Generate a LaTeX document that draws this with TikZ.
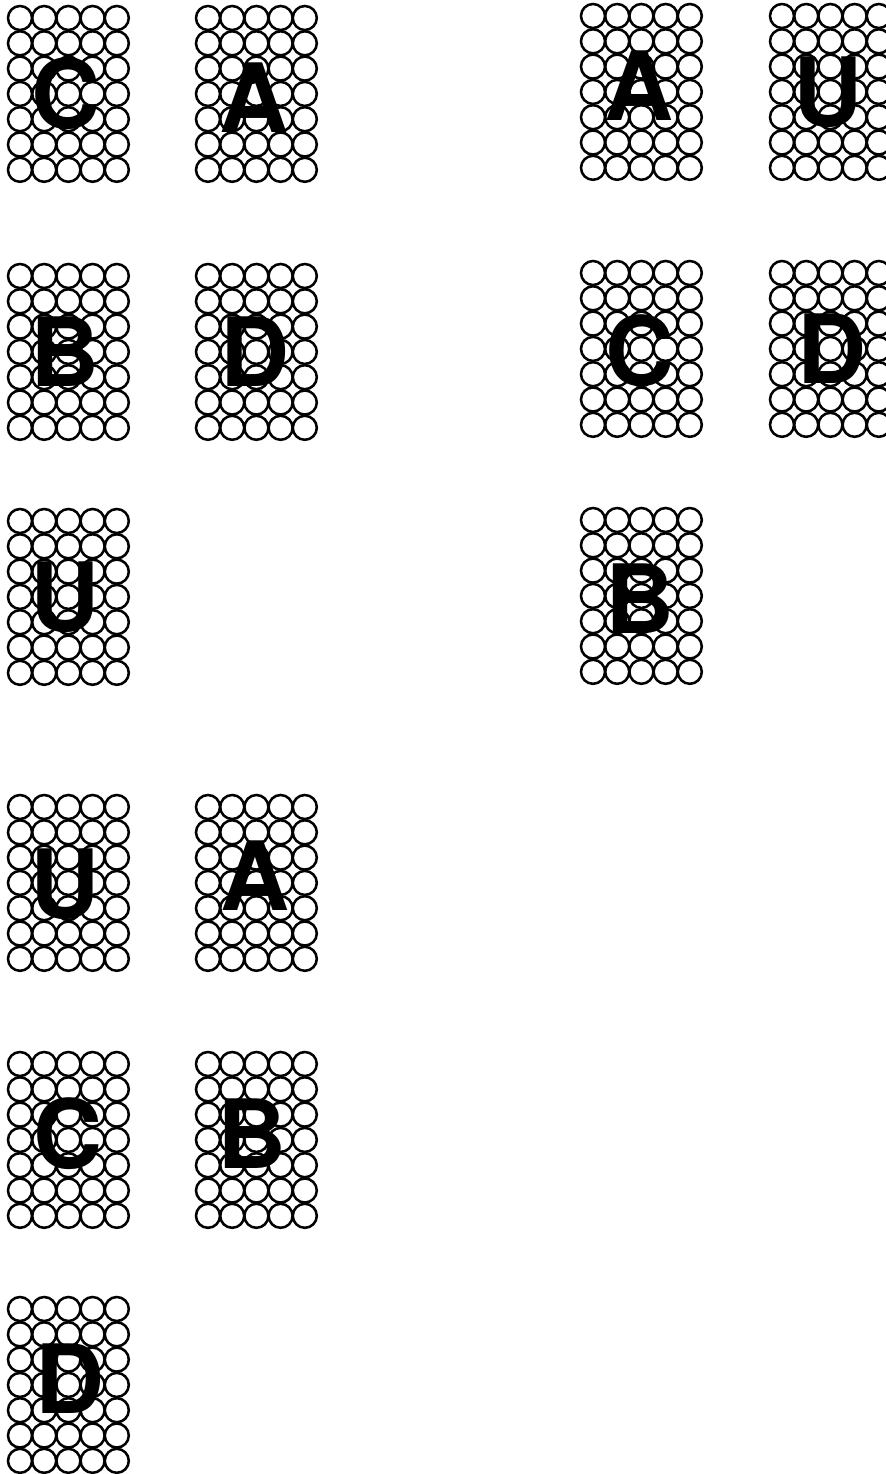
\documentclass[tikz,border=0pt]{standalone}
\usepackage{fontspec}
\setsansfont{TeX Gyre Heros}

\tikzset{
  dot/.style={line width=1.8pt},
  glyph/.style={inner sep=0pt, anchor=base, font=\fontsize{68}{68}\selectfont\sffamily\bfseries}
}

% card: name, left, top, letter, letter dx, baseline dy
\newcommand{\pcard}[6]{%
  \foreach \i in {0,...,4}
    \foreach \j in {0,...,6}
      \draw[dot] ({#2+13+24.2*\i},{#3+13+25.3*\j}) circle (0.3cm);
  \node[glyph] (#1) at ({#2+#5},{#3+#6}) {#4};
}

\begin{document}
\begin{tikzpicture}[x=0.025cm,y=-0.025cm]
\useasboundingbox (0,0) rectangle (886,1474);

% left group
\pcard{lac}{7}{5}{C}{59}{123}
\pcard{laa}{195}{5}{A}{59}{127}
\pcard{lbb}{7}{263}{B}{58}{123}
\pcard{lbd}{195}{263}{D}{60}{123}
\pcard{lcu}{7}{508}{U}{58}{123}

% lower left group
\pcard{ldu}{7}{794}{U}{58}{124}
\pcard{lda}{195}{794}{A}{60}{116}
\pcard{lec}{7}{1051}{C}{61}{117}
\pcard{leb}{195}{1051}{B}{57}{117}
\pcard{lfd}{7}{1296}{D}{63}{117}

% right group
\pcard{raa}{580}{3}{A}{59}{117}
\pcard{rau}{769}{3}{U}{59}{123}
\pcard{rbc}{580}{260}{C}{60}{125}
\pcard{rbd}{769}{260}{D}{63}{123}
\pcard{rcb}{580}{507}{B}{60}{126}
\end{tikzpicture}
\end{document}
